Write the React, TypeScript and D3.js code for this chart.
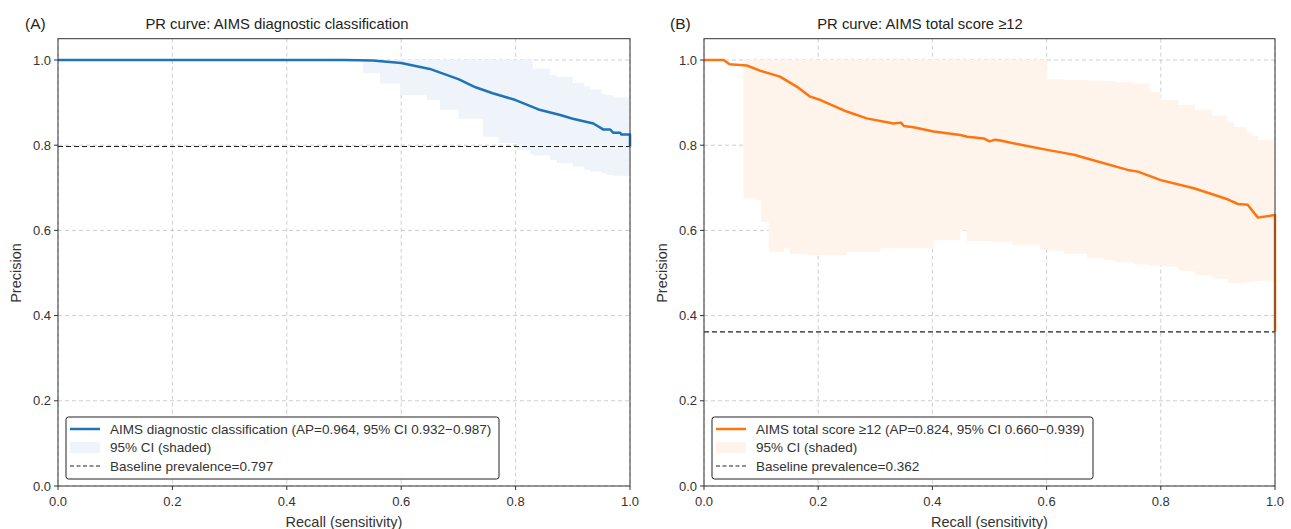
import React from 'react';
import * as d3 from 'd3';

// panel A: AIMS diagnostic classification
const recallA = [0, 0.5, 0.55, 0.6, 0.65, 0.7, 0.73, 0.76, 0.8, 0.84, 0.878, 0.9, 0.936, 0.953, 0.965, 0.971, 0.983, 0.985, 0.997, 1.0, 1.0];
const precisionA = [1, 1, 0.999, 0.993, 0.979, 0.955, 0.936, 0.922, 0.906, 0.884, 0.871, 0.862, 0.851, 0.837, 0.837, 0.829, 0.829, 0.825, 0.825, 0.825, 0.797];
const ciRecallA = [0.533, 0.563, 0.598, 0.645, 0.668, 0.7, 0.743, 0.77, 0.802, 0.825, 0.83, 0.86, 0.872, 0.9, 0.92, 0.93, 0.95, 0.959, 0.97, 1.0];
const ciLowerA = [0.969, 0.945, 0.918, 0.906, 0.883, 0.862, 0.82, 0.805, 0.789, 0.78, 0.776, 0.766, 0.758, 0.75, 0.742, 0.738, 0.734, 0.73, 0.728, 0.726];
const ciUpperA = [1, 1, 1, 1, 1, 1, 1, 1, 1, 1, 0.98, 0.965, 0.96, 0.946, 0.938, 0.93, 0.92, 0.918, 0.912, 0.908];
const baselineA = 0.797;

// panel B: AIMS total score >= 12
const recallB = [0, 0.034, 0.045, 0.075, 0.098, 0.133, 0.163, 0.186, 0.204, 0.25, 0.285, 0.332, 0.345, 0.35, 0.367, 0.402, 0.449, 0.461, 0.49, 0.5, 0.51, 0.519, 0.566, 0.601, 0.63, 0.65, 0.66, 0.742, 0.76, 0.8, 0.858, 0.917, 0.935, 0.952, 0.97, 0.999, 1.0, 1.0];
const precisionB = [1, 1, 0.99, 0.987, 0.975, 0.961, 0.937, 0.914, 0.906, 0.879, 0.863, 0.851, 0.853, 0.845, 0.842, 0.832, 0.824, 0.82, 0.816, 0.809, 0.813, 0.811, 0.798, 0.789, 0.782, 0.777, 0.773, 0.742, 0.738, 0.718, 0.699, 0.673, 0.662, 0.66, 0.63, 0.636, 0.636, 0.362];
const ciRecallB = [0.069, 0.092, 0.1, 0.113, 0.14, 0.15, 0.18, 0.25, 0.309, 0.402, 0.449, 0.46, 0.502, 0.54, 0.589, 0.601, 0.63, 0.671, 0.7, 0.72, 0.753, 0.78, 0.8, 0.83, 0.86, 0.89, 0.917, 0.928, 0.95, 0.96, 0.97, 1.0];
const ciLowerB = [0.675, 0.671, 0.62, 0.55, 0.56, 0.545, 0.542, 0.55, 0.558, 0.577, 0.6, 0.575, 0.573, 0.565, 0.554, 0.552, 0.545, 0.535, 0.53, 0.525, 0.52, 0.517, 0.515, 0.505, 0.495, 0.486, 0.476, 0.476, 0.478, 0.48, 0.482, 0.484];
const ciUpperB = [1, 1, 1, 1, 1, 1, 1, 1, 1, 1, 1, 1, 1, 1, 1, 0.955, 0.953, 0.952, 0.95, 0.948, 0.945, 0.925, 0.906, 0.895, 0.883, 0.87, 0.855, 0.843, 0.83, 0.822, 0.812, 0.798];
const baselineB = 0.362;

const ticks = [0, 0.2, 0.4, 0.6, 0.8, 1.0];
const FONT = '"Liberation Sans", Arial, sans-serif';

type PanelProps = {
  left: number; right: number; tag: string; tagX: number; title: string; titleX: number;
  recall: number[]; precision: number[]; ciRecall: number[]; ciLower: number[]; ciUpper: number[];
  baseline: number; color: string; band: string; legendW: number; curveLabel: string;
};

const Panel = (p: PanelProps) => {
  const x = d3.scaleLinear().domain([0, 1]).range([p.left, p.right]);
  const y = d3.scaleLinear().domain([0, 1.05]).range([486, 486 - 426 * 1.05]);
  const line = d3.line<number>().x((d, i) => x(p.recall[i])).y(d => y(d));
  const area = d3.area<number>()
    .x((d, i) => x(p.ciRecall[i]))
    .y0((d, i) => y(p.ciLower[i]))
    .y1(d => y(d))
    .curve(d3.curveStepAfter);
  const top = y(1.05), bottom = y(0);
  const lx = p.left + 8, ly = 417;
  return (
    <g fontFamily={FONT}>
      <text x={p.tagX} y={29} fontSize={15.5} fill='#222'>{p.tag}</text>
      <text x={p.titleX} y={29} fontSize={14.8} fill='#222' textAnchor='middle'>{p.title}</text>
      {ticks.map(t => (
        <g key={'g' + t}>
          <line x1={x(t)} x2={x(t)} y1={top} y2={bottom} stroke='#c8c8c8' strokeDasharray='4,3' strokeWidth={0.9} />
          <line x1={p.left} x2={p.right} y1={y(t)} y2={y(t)} stroke='#c8c8c8' strokeDasharray='4,3' strokeWidth={0.9} />
        </g>
      ))}
      <path d={area(p.ciUpper) || ''} fill={p.band} />
      <line x1={p.left} x2={p.right} y1={y(p.baseline)} y2={y(p.baseline)} stroke='#222' strokeDasharray='5,3' strokeWidth={1.2} />
      <path d={line(p.precision) || ''} fill='none' stroke={p.color} strokeWidth={2.5} strokeLinejoin='round' />
      <rect x={p.left} y={top} width={p.right - p.left} height={bottom - top} fill='none' stroke='#333' strokeWidth={1} />
      {ticks.map(t => (
        <g key={'t' + t} fontSize={13} fill='#333'>
          <line x1={x(t)} x2={x(t)} y1={bottom} y2={bottom + 4} stroke='#333' />
          <text x={x(t)} y={bottom + 20} textAnchor='middle'>{t.toFixed(1)}</text>
          <line x1={p.left - 4} x2={p.left} y1={y(t)} y2={y(t)} stroke='#333' />
          <text x={p.left - 7} y={y(t) + 4.5} textAnchor='end'>{t.toFixed(1)}</text>
        </g>
      ))}
      <text x={(p.left + p.right) / 2} y={527} fontSize={14.5} fill='#333' textAnchor='middle'>Recall (sensitivity)</text>
      <text transform={`translate(${p.left - 37},${y(0.5)}) rotate(-90)`} fontSize={14.5} fill='#333' textAnchor='middle'>Precision</text>
      <rect x={lx} y={ly} width={p.legendW} height={62} rx={2.5} fill='white' fillOpacity={0.9} stroke='#222' strokeWidth={1} />
      <line x1={lx + 4} x2={lx + 34} y1={ly + 12} y2={ly + 12} stroke={p.color} strokeWidth={2.5} />
      <rect x={lx + 4} y={ly + 25} width={30} height={11} fill={p.band} />
      <line x1={lx + 4} x2={lx + 34} y1={ly + 49} y2={ly + 49} stroke='#222' strokeDasharray='4,2.5' strokeWidth={1.2} />
      <g fontSize={13.5} fill='#333'>
        <text x={lx + 44} y={ly + 17}>{p.curveLabel}</text>
        <text x={lx + 44} y={ly + 35}>95% CI (shaded)</text>
        <text x={lx + 44} y={ly + 54}>Baseline prevalence={p.baseline.toFixed(3)}</text>
      </g>
    </g>
  );
};

export default function App() {
  return (
    <svg width={1291} height={529} style={{ position: 'absolute', left: 0, top: 0, background: 'white' }}>
      <Panel left={58} right={630} tag='(A)' tagX={25} title='PR curve: AIMS diagnostic classification' titleX={277}
        recall={recallA} precision={precisionA} ciRecall={ciRecallA} ciLower={ciLowerA} ciUpper={ciUpperA}
        baseline={baselineA} color='#1f74b7' band='#eef4fa' legendW={433}
        curveLabel='AIMS diagnostic classification (AP=0.964, 95% CI 0.932−0.987)' />
      <Panel left={704} right={1275} tag='(B)' tagX={670} title='PR curve: AIMS total score ≥12' titleX={920}
        recall={recallB} precision={precisionB} ciRecall={ciRecallB} ciLower={ciLowerB} ciUpper={ciUpperB}
        baseline={baselineB} color='#ff740d' band='#fff4ec' legendW={381}
        curveLabel='AIMS total score ≥12 (AP=0.824, 95% CI 0.660−0.939)' />
    </svg>
  );
}
